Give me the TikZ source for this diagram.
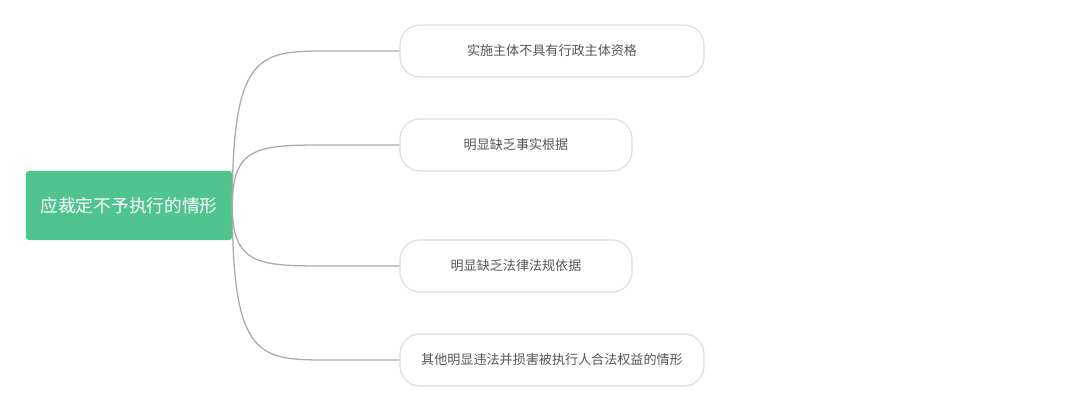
\documentclass[tikz,border=0pt]{standalone}
\usepackage{fontspec}
\setmainfont{Noto Sans CJK SC}
\usetikzlibrary{calc}
\definecolor{rootgreen}{HTML}{50C48D}
\definecolor{leafline}{HTML}{DCDCDC}
\definecolor{linkgray}{HTML}{AAAAAA}
\definecolor{leaftext}{HTML}{555555}
\tikzset{
  rootbox/.style={fill=rootgreen,rounded corners=2pt,minimum width=5.15cm,minimum height=1.725cm,text=white,font=\fontsize{12.6}{14}\selectfont,inner sep=0pt},
  leafbox/.style={draw=leafline,line width=0.8pt,rounded corners=0.5cm,minimum height=1.3cm,text=leaftext,font=\fontsize{9.3}{11}\selectfont,inner sep=0pt},
  link/.style={draw=linkgray,line width=0.9pt}
}

\begin{document}
\begin{tikzpicture}[x=0.025cm,y=-0.025cm]
            \useasboundingbox (0,0) rectangle (1080,411);
            \node[rootbox] (root) at (129,205.5) {应裁定不予执行的情形};
            \node[leafbox,minimum width=7.6cm] (l1) at (552,51) {实施主体不具有行政主体资格};
            \node[leafbox,minimum width=5.8cm] (l2) at (516,145) {明显缺乏事实根据};
            \node[leafbox,minimum width=5.8cm] (l3) at (516,266) {明显缺乏法律法规依据};
            \node[leafbox,minimum width=7.6cm] (l4) at (552,360) {其他明显违法并损害被执行人合法权益的情形};
            \foreach \leaf in {l1,l2,l3,l4}
              \draw[link] (root.east) .. controls (root.east |- \leaf.west) and ($(root.east |- \leaf.west)+(27,0)$) .. ($(\leaf.west)+(-70,0)$) -- (\leaf.west);
        \end{tikzpicture}
\end{document}
